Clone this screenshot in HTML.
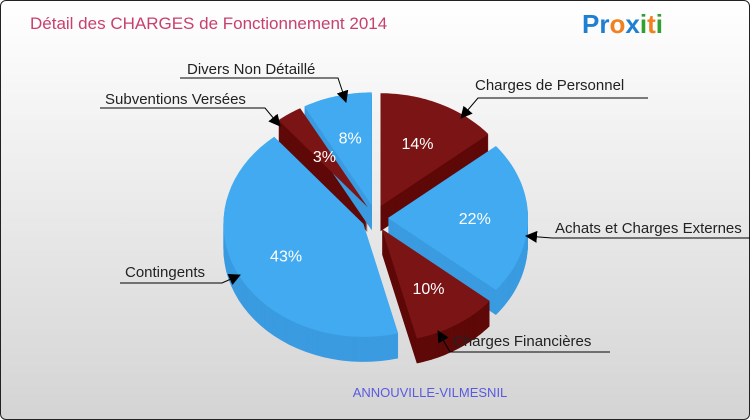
<!DOCTYPE html>
<html><head><meta charset="utf-8"><style>
body{margin:0;width:750px;height:420px;overflow:hidden}
#c{position:absolute;left:0;top:0;width:748px;height:418px;border:1px solid #222;border-radius:6px;background:linear-gradient(#fff,#d4d4d4)}
svg{position:absolute;left:0;top:0}
text{font-family:"Liberation Sans",sans-serif}
</style></head><body>
<div id="c"></div>
<svg id="s" width="750" height="420">
<defs><marker id="ar2" markerWidth="12" markerHeight="12" refX="11" refY="6" orient="auto" markerUnits="userSpaceOnUse" viewBox="0 0 12 12"><path d="M0,0 L12,6 L0,12 Z" fill="#000"/></marker></defs>
<text x="30" y="29" font-size="17" fill="#c8406c">Détail des CHARGES de Fonctionnement 2014</text>
<text x="582" y="33" font-size="26" font-weight="bold"><tspan fill="#1f7fd0">Pr</tspan><tspan fill="#f08020">o</tspan><tspan fill="#1f7fd0">x</tspan><tspan fill="#30a030">i</tspan><tspan fill="#f08020">t</tspan><tspan fill="#30a030">i</tspan></text>
<text x="430" y="397" font-size="13" fill="#5a5ae0" text-anchor="middle">ANNOUVILLE-VILMESNIL</text>
<g id="pie"></g><g id="lbl"></g>
</svg>
<script>
const categories=["Charges de Personnel","Achats et Charges Externes","Charges Financières","Contingents","Subventions Versées","Divers Non Détaillé"];
const values=[14,22,10,43,3,8];
const colors=["#7b1414","#42aaf0","#7b1414","#42aaf0","#7b1414","#42aaf0"];
const sides=["#5e0808","#3a9be0","#5e0808","#3a9be0","#5e0808","#3a9be0"];
const cx=375,cy=218,rx=140,ry=113,depth=25,ex=13;
const NS="http://www.w3.org/2000/svg";
const pie=document.getElementById('pie');
const total=values.reduce((a,b)=>a+b,0);
function pt(a,ox,oy,dy){return [ox+rx*Math.sin(a),oy-ry*Math.cos(a)+dy];}
function path(a0,a1,ox,oy,dy){let d=`M${ox},${oy+dy}`;const n=40;for(let i=0;i<=n;i++){const p=pt(a0+(a1-a0)*i/n,ox,oy,dy);d+=`L${p[0].toFixed(1)},${p[1].toFixed(1)}`;}return d+'Z';}
let acc=0;const sl=[];
values.forEach((v,i)=>{const a0=acc/total*2*Math.PI;acc+=v;const a1=acc/total*2*Math.PI;const m=(a0+a1)/2;sl.push({a0,a1,m,ox:cx+ex*Math.sin(m),oy:cy-ex*Math.cos(m)});});
sl.forEach((s,i)=>{const g=document.createElementNS(NS,'g');


for(let d=depth;d>0;d-=1){const p=document.createElementNS(NS,'path');p.setAttribute('d',path(s.a0,s.a1,s.ox,s.oy,d));p.setAttribute('fill',sides[i]);g.appendChild(p);}
pie.appendChild(g);});
sl.forEach((s,i)=>{const p=document.createElementNS(NS,'path');p.setAttribute('d',path(s.a0,s.a1,s.ox,s.oy,0));p.setAttribute('fill',colors[i]);


pie.appendChild(p);
const t=document.createElementNS(NS,'text');const r=i==4?0.55:0.62;
t.setAttribute('x',s.ox+rx*r*Math.sin(s.m));t.setAttribute('y',s.oy-ry*r*Math.cos(s.m)+6);
t.setAttribute('fill','#fff');t.setAttribute('font-size','16');t.setAttribute('text-anchor','middle');
t.textContent=values[i]+'%';


pie.appendChild(t);});
const lbl=document.getElementById('lbl');
const L=[[475,90,"M648,98 L478,98 L461,118"],[555,233,"M750,238 L552,238 L526,236"],[453,346,"M610,352 L450,352 L438,331"],[125,277,"M120,283 L222,283 L240,275"],[105,104,"M100,108 L265,108 L280,126"],[187,74,"M180,78 L338,78 L346,102"]];
L.forEach((l,i)=>{const t=document.createElementNS(NS,'text');t.setAttribute('x',l[0]);t.setAttribute('y',l[1]);t.setAttribute('font-size','15');t.setAttribute('fill','#222');t.textContent=categories[i];


lbl.appendChild(t);
const p=document.createElementNS(NS,'path');p.setAttribute('d',l[2]);p.setAttribute('stroke','#000');p.setAttribute('fill','none');p.setAttribute('marker-end','url(#ar2)');


lbl.appendChild(p);});
</script>
</body></html>
